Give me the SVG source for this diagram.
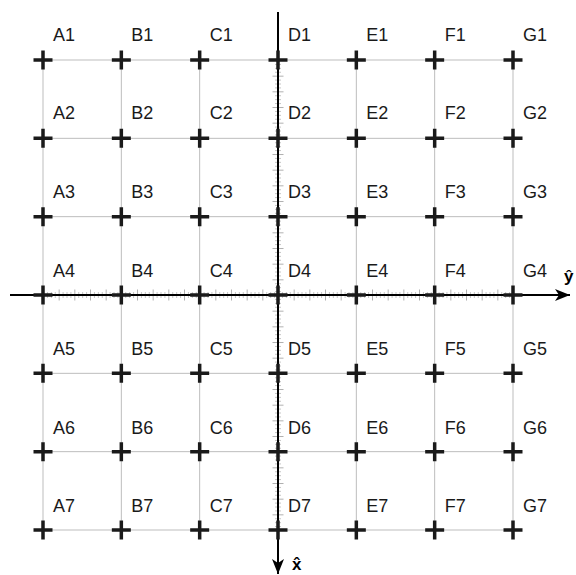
<svg xmlns="http://www.w3.org/2000/svg" width="576" height="575" viewBox="0 0 576 575">
<style>
.grid{stroke:#bdbdbd;stroke-width:1;fill:none}
.cross{stroke:#1a1a1a;stroke-width:3.5;fill:none}
.lbl{font-family:"Liberation Sans",Arial,sans-serif;font-size:18px;fill:#1a1a1a}
.axis{stroke:#000;stroke-width:2;fill:none}
.unit{font-family:"Liberation Sans",Arial,sans-serif;font-size:17px;font-weight:bold;fill:#000}
</style>
<defs>
<marker id="ah" markerUnits="userSpaceOnUse" markerWidth="20" markerHeight="14" refX="16" refY="7" orient="auto" viewBox="0 0 20 14">
<path d="M16,7 L1,1 L5,7 L1,13 Z" fill="#000"/>
</marker>
<pattern id="tx" patternUnits="userSpaceOnUse" x="43" y="0" width="15.667" height="575">
<rect x="0" y="289.5" width="1" height="11" fill="#b0b0b0"/>
<rect x="3.917" y="292" width="1" height="6" fill="#c4c4c4"/>
<rect x="7.833" y="292" width="1" height="6" fill="#c4c4c4"/>
<rect x="11.75" y="292" width="1" height="6" fill="#c4c4c4"/>
</pattern>
<pattern id="ty" patternUnits="userSpaceOnUse" x="0" y="60" width="576" height="15.667">
<rect y="0" x="272.5" height="1" width="11" fill="#b0b0b0"/>
<rect y="3.917" x="275" height="1" width="6" fill="#c4c4c4"/>
<rect y="7.833" x="275" height="1" width="6" fill="#c4c4c4"/>
<rect y="11.75" x="275" height="1" width="6" fill="#c4c4c4"/>
</pattern>
</defs>
<rect width="576" height="575" fill="#fff"/>
<g id="grid">
<path class="grid" d="M43,60H513M43,138.33H513M43,216.67H513M43,295H513M43,373.33H513M43,451.67H513M43,530H513M43,60V530M121.33,60V530M199.67,60V530M278,60V530M356.33,60V530M434.67,60V530M513,60V530"/>
</g>
<g id="ticks">
<rect x="42.5" y="285" width="472" height="20" fill="url(#tx)"/>
<rect x="268" y="59.5" width="20" height="472" fill="url(#ty)"/>
</g>
<g id="connectors">
<line id="y-axis" class="axis" x1="10" y1="295" x2="570" y2="295" marker-end="url(#ah)"/>
<line id="x-axis" class="axis" x1="278" y1="12" x2="278" y2="574" marker-end="url(#ah)"/>
</g>
<g id="nodes">
<g id="A1"><path class="cross" d="M33.5,60H52.5M43,50.5V69.5"/><text class="lbl" x="53" y="41">A1</text></g>
<g id="B1"><path class="cross" d="M111.83,60H130.83M121.33,50.5V69.5"/><text class="lbl" x="131.33" y="41">B1</text></g>
<g id="C1"><path class="cross" d="M190.17,60H209.17M199.67,50.5V69.5"/><text class="lbl" x="209.67" y="41">C1</text></g>
<g id="D1"><path class="cross" d="M268.5,60H287.5M278,50.5V69.5"/><text class="lbl" x="288" y="41">D1</text></g>
<g id="E1"><path class="cross" d="M346.83,60H365.83M356.33,50.5V69.5"/><text class="lbl" x="366.33" y="41">E1</text></g>
<g id="F1"><path class="cross" d="M425.17,60H444.17M434.67,50.5V69.5"/><text class="lbl" x="444.67" y="41">F1</text></g>
<g id="G1"><path class="cross" d="M503.5,60H522.5M513,50.5V69.5"/><text class="lbl" x="523" y="41">G1</text></g>

<g id="A2"><path class="cross" d="M33.5,138.33H52.5M43,128.83V147.83"/><text class="lbl" x="53" y="119.33">A2</text></g>
<g id="B2"><path class="cross" d="M111.83,138.33H130.83M121.33,128.83V147.83"/><text class="lbl" x="131.33" y="119.33">B2</text></g>
<g id="C2"><path class="cross" d="M190.17,138.33H209.17M199.67,128.83V147.83"/><text class="lbl" x="209.67" y="119.33">C2</text></g>
<g id="D2"><path class="cross" d="M268.5,138.33H287.5M278,128.83V147.83"/><text class="lbl" x="288" y="119.33">D2</text></g>
<g id="E2"><path class="cross" d="M346.83,138.33H365.83M356.33,128.83V147.83"/><text class="lbl" x="366.33" y="119.33">E2</text></g>
<g id="F2"><path class="cross" d="M425.17,138.33H444.17M434.67,128.83V147.83"/><text class="lbl" x="444.67" y="119.33">F2</text></g>
<g id="G2"><path class="cross" d="M503.5,138.33H522.5M513,128.83V147.83"/><text class="lbl" x="523" y="119.33">G2</text></g>

<g id="A3"><path class="cross" d="M33.5,216.67H52.5M43,207.17V226.17"/><text class="lbl" x="53" y="197.67">A3</text></g>
<g id="B3"><path class="cross" d="M111.83,216.67H130.83M121.33,207.17V226.17"/><text class="lbl" x="131.33" y="197.67">B3</text></g>
<g id="C3"><path class="cross" d="M190.17,216.67H209.17M199.67,207.17V226.17"/><text class="lbl" x="209.67" y="197.67">C3</text></g>
<g id="D3"><path class="cross" d="M268.5,216.67H287.5M278,207.17V226.17"/><text class="lbl" x="288" y="197.67">D3</text></g>
<g id="E3"><path class="cross" d="M346.83,216.67H365.83M356.33,207.17V226.17"/><text class="lbl" x="366.33" y="197.67">E3</text></g>
<g id="F3"><path class="cross" d="M425.17,216.67H444.17M434.67,207.17V226.17"/><text class="lbl" x="444.67" y="197.67">F3</text></g>
<g id="G3"><path class="cross" d="M503.5,216.67H522.5M513,207.17V226.17"/><text class="lbl" x="523" y="197.67">G3</text></g>

<g id="A4"><path class="cross" d="M33.5,295H52.5M43,285.5V304.5"/><text class="lbl" x="53" y="277">A4</text></g>
<g id="B4"><path class="cross" d="M111.83,295H130.83M121.33,285.5V304.5"/><text class="lbl" x="131.33" y="277">B4</text></g>
<g id="C4"><path class="cross" d="M190.17,295H209.17M199.67,285.5V304.5"/><text class="lbl" x="209.67" y="277">C4</text></g>
<g id="D4"><path class="cross" d="M268.5,295H287.5M278,285.5V304.5"/><text class="lbl" x="288" y="277">D4</text></g>
<g id="E4"><path class="cross" d="M346.83,295H365.83M356.33,285.5V304.5"/><text class="lbl" x="366.33" y="277">E4</text></g>
<g id="F4"><path class="cross" d="M425.17,295H444.17M434.67,285.5V304.5"/><text class="lbl" x="444.67" y="277">F4</text></g>
<g id="G4"><path class="cross" d="M503.5,295H522.5M513,285.5V304.5"/><text class="lbl" x="523" y="277">G4</text></g>

<g id="A5"><path class="cross" d="M33.5,373.33H52.5M43,363.83V382.83"/><text class="lbl" x="53" y="355.33">A5</text></g>
<g id="B5"><path class="cross" d="M111.83,373.33H130.83M121.33,363.83V382.83"/><text class="lbl" x="131.33" y="355.33">B5</text></g>
<g id="C5"><path class="cross" d="M190.17,373.33H209.17M199.67,363.83V382.83"/><text class="lbl" x="209.67" y="355.33">C5</text></g>
<g id="D5"><path class="cross" d="M268.5,373.33H287.5M278,363.83V382.83"/><text class="lbl" x="288" y="355.33">D5</text></g>
<g id="E5"><path class="cross" d="M346.83,373.33H365.83M356.33,363.83V382.83"/><text class="lbl" x="366.33" y="355.33">E5</text></g>
<g id="F5"><path class="cross" d="M425.17,373.33H444.17M434.67,363.83V382.83"/><text class="lbl" x="444.67" y="355.33">F5</text></g>
<g id="G5"><path class="cross" d="M503.5,373.33H522.5M513,363.83V382.83"/><text class="lbl" x="523" y="355.33">G5</text></g>

<g id="A6"><path class="cross" d="M33.5,451.67H52.5M43,442.17V461.17"/><text class="lbl" x="53" y="433.67">A6</text></g>
<g id="B6"><path class="cross" d="M111.83,451.67H130.83M121.33,442.17V461.17"/><text class="lbl" x="131.33" y="433.67">B6</text></g>
<g id="C6"><path class="cross" d="M190.17,451.67H209.17M199.67,442.17V461.17"/><text class="lbl" x="209.67" y="433.67">C6</text></g>
<g id="D6"><path class="cross" d="M268.5,451.67H287.5M278,442.17V461.17"/><text class="lbl" x="288" y="433.67">D6</text></g>
<g id="E6"><path class="cross" d="M346.83,451.67H365.83M356.33,442.17V461.17"/><text class="lbl" x="366.33" y="433.67">E6</text></g>
<g id="F6"><path class="cross" d="M425.17,451.67H444.17M434.67,442.17V461.17"/><text class="lbl" x="444.67" y="433.67">F6</text></g>
<g id="G6"><path class="cross" d="M503.5,451.67H522.5M513,442.17V461.17"/><text class="lbl" x="523" y="433.67">G6</text></g>

<g id="A7"><path class="cross" d="M33.5,530H52.5M43,520.5V539.5"/><text class="lbl" x="53" y="512">A7</text></g>
<g id="B7"><path class="cross" d="M111.83,530H130.83M121.33,520.5V539.5"/><text class="lbl" x="131.33" y="512">B7</text></g>
<g id="C7"><path class="cross" d="M190.17,530H209.17M199.67,520.5V539.5"/><text class="lbl" x="209.67" y="512">C7</text></g>
<g id="D7"><path class="cross" d="M268.5,530H287.5M278,520.5V539.5"/><text class="lbl" x="288" y="512">D7</text></g>
<g id="E7"><path class="cross" d="M346.83,530H365.83M356.33,520.5V539.5"/><text class="lbl" x="366.33" y="512">E7</text></g>
<g id="F7"><path class="cross" d="M425.17,530H444.17M434.67,520.5V539.5"/><text class="lbl" x="444.67" y="512">F7</text></g>
<g id="G7"><path class="cross" d="M503.5,530H522.5M513,520.5V539.5"/><text class="lbl" x="523" y="512">G7</text></g>
</g>
<g id="axis-labels">
<text class="unit" x="564" y="282">ŷ</text>
<text class="unit" x="292" y="570" font-size="16">x̂</text>
</g>
</svg>
